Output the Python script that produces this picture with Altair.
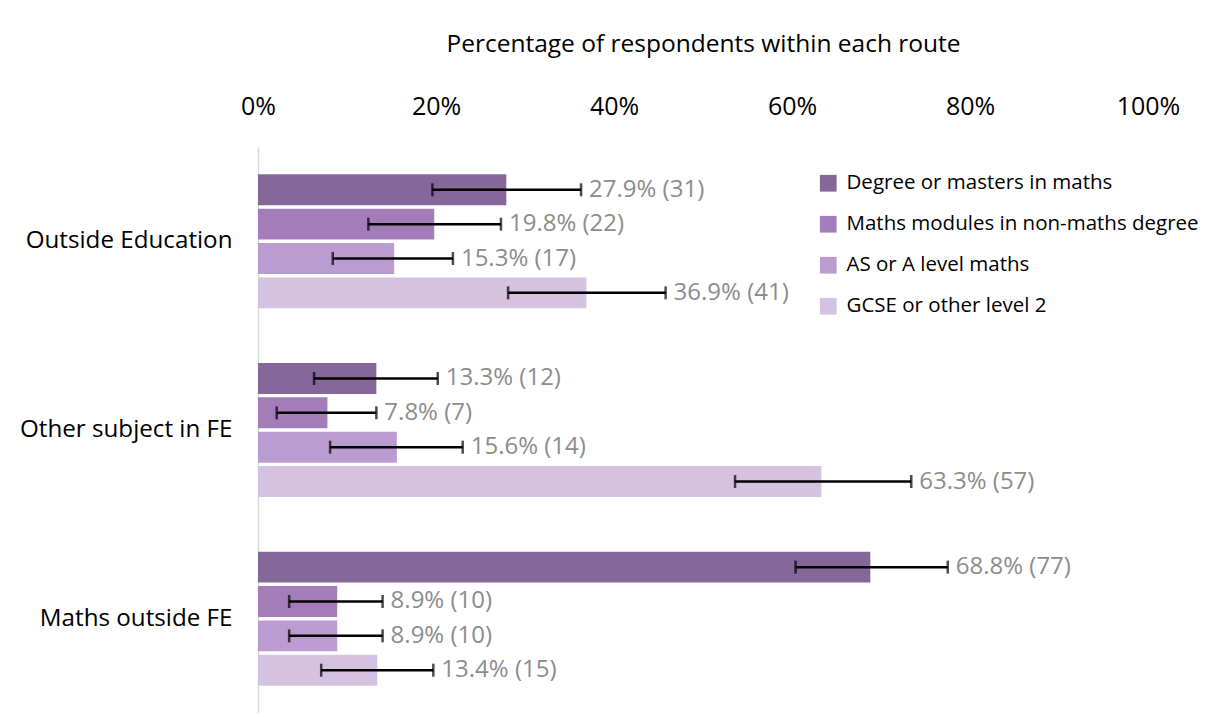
import altair as alt
import pandas as pd

routes = ["Outside Education", "Other subject in FE", "Maths outside FE"]
quals = ["Degree or masters in maths", "Maths modules in non-maths degree",
         "AS or A level maths", "GCSE or other level 2"]
colors = ["#86679A", "#A47CB9", "#BB9CD1", "#D4C2E0"]

values = [[27.9, 19.8, 15.3, 36.9],
          [13.3, 7.8, 15.6, 63.3],
          [68.8, 8.9, 8.9, 13.4]]
counts = [[31, 22, 17, 41],
          [12, 7, 14, 57],
          [77, 10, 10, 15]]
lower = [[19.6, 12.4, 8.4, 28.1],
         [6.3, 2.1, 8.1, 53.6],
         [60.4, 3.5, 3.5, 7.1]]
upper = [[36.3, 27.3, 21.9, 45.8],
         [20.2, 13.3, 23.0, 73.4],
         [77.5, 14.0, 14.0, 19.7]]

rows = []
for i, r in enumerate(routes):
    for j, q in enumerate(quals):
        rows.append({"route": r, "qual": q, "qorder": j,
                     "value": values[i][j], "n": counts[i][j],
                     "lo": lower[i][j], "hi": upper[i][j],
                     "label": f"{values[i][j]:.1f}% ({counts[i][j]})"})
df = pd.DataFrame(rows)

FONT = "Open Sans"
FS = 24
LFS = 20.5

y = alt.Y("route:N", sort=routes, title=None,
          scale=alt.Scale(paddingInner=0.29, paddingOuter=0.145),
          axis=alt.Axis(ticks=False, labelPadding=26, labelFontSize=24.2,
                        labelColor="#000000", domainColor="#D9D9D9",
                        domainWidth=1.5, minExtent=245, maxExtent=245,
                        labelFont=FONT, labelLimit=0))
yoff = alt.YOffset("qual:N", sort=quals, scale=alt.Scale(paddingInner=0.1))

base = alt.Chart(df)

bars = base.mark_bar().encode(
    x=alt.X("value:Q", scale=alt.Scale(domain=[0, 100]),
            title="Percentage of respondents within each route",
            axis=alt.Axis(orient="top", values=[0, 20, 40, 60, 80, 100],
                          labelExpr="datum.value + '%'", ticks=False,
                          domain=False, grid=False, labelFontSize=25,
                          labelFlush=False,
                          labelColor="#000000", labelPadding=28,
                          titleFontSize=24.5, titleFontWeight="normal",
                          titleColor="#000000", titlePadding=38,
                          labelFont=FONT, titleFont=FONT)),
    y=y, yOffset=yoff,
    color=alt.Color("qual:N", sort=quals,
                    scale=alt.Scale(domain=quals, range=colors),
                    legend=alt.Legend(title=None, orient="none", legendX=560,
                                      legendY=26, symbolType="square",
                                      symbolSize=280, labelFontSize=LFS,
                                      labelFont=FONT, labelColor="#000000",
                                      rowPadding=20, labelOffset=8,
                                      labelLimit=0, symbolStrokeWidth=0)),
)

rule = base.mark_rule(color="#000000", strokeWidth=2.5).encode(
    x="lo:Q", x2="hi:Q", y=y, yOffset=yoff)

caps_lo = base.mark_tick(color="#000000", thickness=2.5, size=13).encode(
    x="lo:Q", y=y, yOffset=yoff)
caps_hi = base.mark_tick(color="#000000", thickness=2.5, size=13).encode(
    x="hi:Q", y=y, yOffset=yoff)

text = base.mark_text(align="left", baseline="middle", dx=8, fontSize=FS,
                      font=FONT, color="#8C8C8C").encode(
    x="hi:Q", y=y, yOffset=yoff, text="label:N")

chart = alt.layer(bars, rule, caps_lo, caps_hi, text).properties(
    width=890, height=566, background="white",
    padding={"left": 5, "top": 23, "right": 0, "bottom": 0}
).configure_view(strokeWidth=0)

chart.save("out.html", embed_options={"renderer": "svg", "actions": False})
